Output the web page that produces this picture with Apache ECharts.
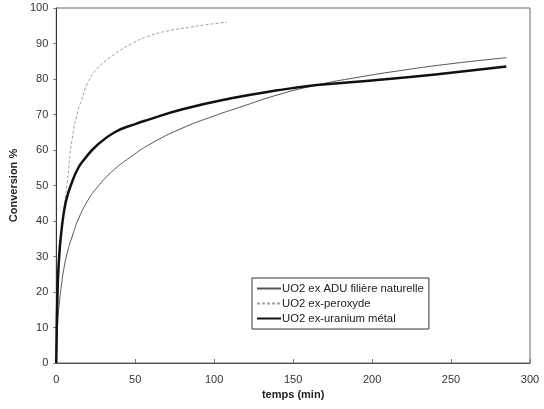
<!DOCTYPE html>
<html>
<head>
<meta charset="utf-8">
<script src="https://cdn.jsdelivr.net/npm/echarts@6/dist/echarts.min.js"></script>
<style>html,body{margin:0;padding:0;background:#fff;}#c{width:544px;height:409px;}</style>
</head>
<body>
<div id="c"></div>
<script>
// Data
const seriesNames = ["UO2 ex ADU filière naturelle", "UO2 ex-peroxyde", "UO2 ex-uranium métal"];

const aduT = [0, 1, 2, 3, 5, 7.5, 10, 14, 20, 26, 35, 47, 60, 79, 100, 116, 140, 165, 190, 220, 250, 285];
const aduV = [0, 12, 17, 21, 27, 32, 35.5, 40.5, 45.8, 49.5, 53.8, 58, 61.8, 66, 69.6, 72, 75.5, 78.3, 80.4, 82.5, 84.3, 86];

const perT = [0, 0.5, 1, 2, 3, 5, 7, 10, 14, 16, 20, 26, 37, 48, 58, 70, 85, 95, 108];
const perV = [0, 10, 18, 28, 35, 44, 51, 63, 71.5, 74, 79, 83, 87, 90, 92, 93.5, 94.6, 95.3, 96];

const uraT = [0, 0.3, 0.7, 1.2, 2, 3, 5, 7, 10, 14, 18, 25, 37, 50, 58, 80, 110, 140, 165, 200, 240, 285];
const uraV = [0, 10, 18, 25, 31, 36, 43, 47, 51, 55, 57.5, 61, 65, 67.3, 68.5, 71.5, 74.5, 76.8, 78.3, 79.6, 81.3, 83.5];

const xTicks = [0, 50, 100, 150, 200, 250, 300];
const yTicks = [0, 10, 20, 30, 40, 50, 60, 70, 80, 90, 100];

function pairs(t, v) { return t.map((x, i) => [x, v[i]]); }

const font = "'Liberation Sans', Arial, sans-serif";
const chart = echarts.init(document.getElementById('c'));
chart.setOption({
  animation: false,
  backgroundColor: '#fff',
  grid: { left: 48, right: 14, top: 8, bottom: 46, show: true, borderColor: '#666', borderWidth: 1 },
  legend: {
    left: 252, top: 278, orient: 'vertical',
    data: seriesNames,
    borderColor: '#333', borderWidth: 1, backgroundColor: '#fff',
    padding: [5, 5, 5, 4], itemGap: 4, itemWidth: 24, itemHeight: 12,
    itemStyle: { opacity: 0 },
    textStyle: { fontFamily: font, fontSize: 11.3, color: '#222', padding: [0, 0, 0, -4] }
  },
  xAxis: {
    type: 'value', min: 0, max: 300, interval: 50,
    name: 'temps (min)', nameLocation: 'middle', nameGap: 24,
    nameTextStyle: { fontFamily: font, fontSize: 11, fontWeight: 'bold', color: '#222' },
    axisLine: { show: true, lineStyle: { color: '#555' } },
    axisTick: { show: true, inside: true, length: 4, lineStyle: { color: '#777' } },
    axisLabel: { fontFamily: font, fontSize: 11, color: '#333', margin: 11 },
    splitLine: { show: false }
  },
  yAxis: {
    type: 'value', min: 0, max: 100, interval: 10,
    name: 'Conversion %', nameLocation: 'middle', nameGap: 32,
    nameTextStyle: { fontFamily: font, fontSize: 11, fontWeight: 'bold', color: '#222' },
    axisLine: { show: true, lineStyle: { color: '#333' } },
    axisTick: { show: true, length: 3, lineStyle: { color: '#777' } },
    axisLabel: { fontFamily: font, fontSize: 11, color: '#333', margin: 8 },
    splitLine: { show: false }
  },
  series: [
    { name: seriesNames[0], type: 'line', data: pairs(aduT, aduV), smooth: 0.5, symbol: 'none',
      lineStyle: { color: '#555', width: 1 }, itemStyle: { color: '#555' } },
    { name: seriesNames[1], type: 'line', data: pairs(perT, perV), smooth: 0.5, symbol: 'none',
      lineStyle: { color: '#a0a0a0', width: 1, type: [3, 2] }, itemStyle: { color: '#a0a0a0' } },
    { name: seriesNames[2], type: 'line', data: pairs(uraT, uraV), smooth: 0.5, symbol: 'none',
      lineStyle: { color: '#111', width: 2.5 }, itemStyle: { color: '#111' } }
  ]
});
</script>
</body>
</html>
